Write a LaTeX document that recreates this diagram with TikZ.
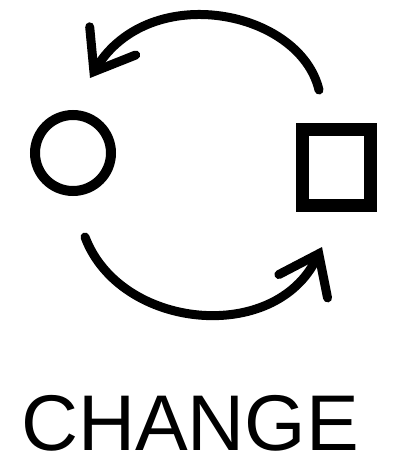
\documentclass[tikz,border=0pt]{standalone}
\usepackage{fontspec}
\setmainfont{Liberation Sans}
\usetikzlibrary{arrows.meta}

\begin{document}
\begin{tikzpicture}[x=1pt,y=-1pt]
            \useasboundingbox (0,0) rectangle (407,469);
            {
                \tikzset{every node/.style = {draw, line width=10pt, inner sep=0pt}}

                \node[circle, minimum size=76pt] (circ) at (73, 153) {};
                \node[rectangle, line width=13pt, minimum width=68pt, minimum height=76pt] (sq) at (336, 167) {};
            }

            \node[font=\fontsize{79}{80}\selectfont] (word) at (190, 423) {CHANGE};

            \coordinate (topstart) at (319, 90);
            \coordinate (toptip) at (90, 78);
            \coordinate (botstart) at (85, 237);
            \coordinate (bottip) at (322, 247);

            \tikzset{barb/.style = {line width=9pt, line cap=round,
                -{Straight Barb[length=36pt, width=54pt, line cap=round]}}}

            \draw[barb] (topstart) .. controls (300, 10) and (150, -20) .. (toptip);
            \draw[barb] (botstart) .. controls (120, 330) and (275, 345) .. (bottip);

        \end{tikzpicture}
\end{document}
